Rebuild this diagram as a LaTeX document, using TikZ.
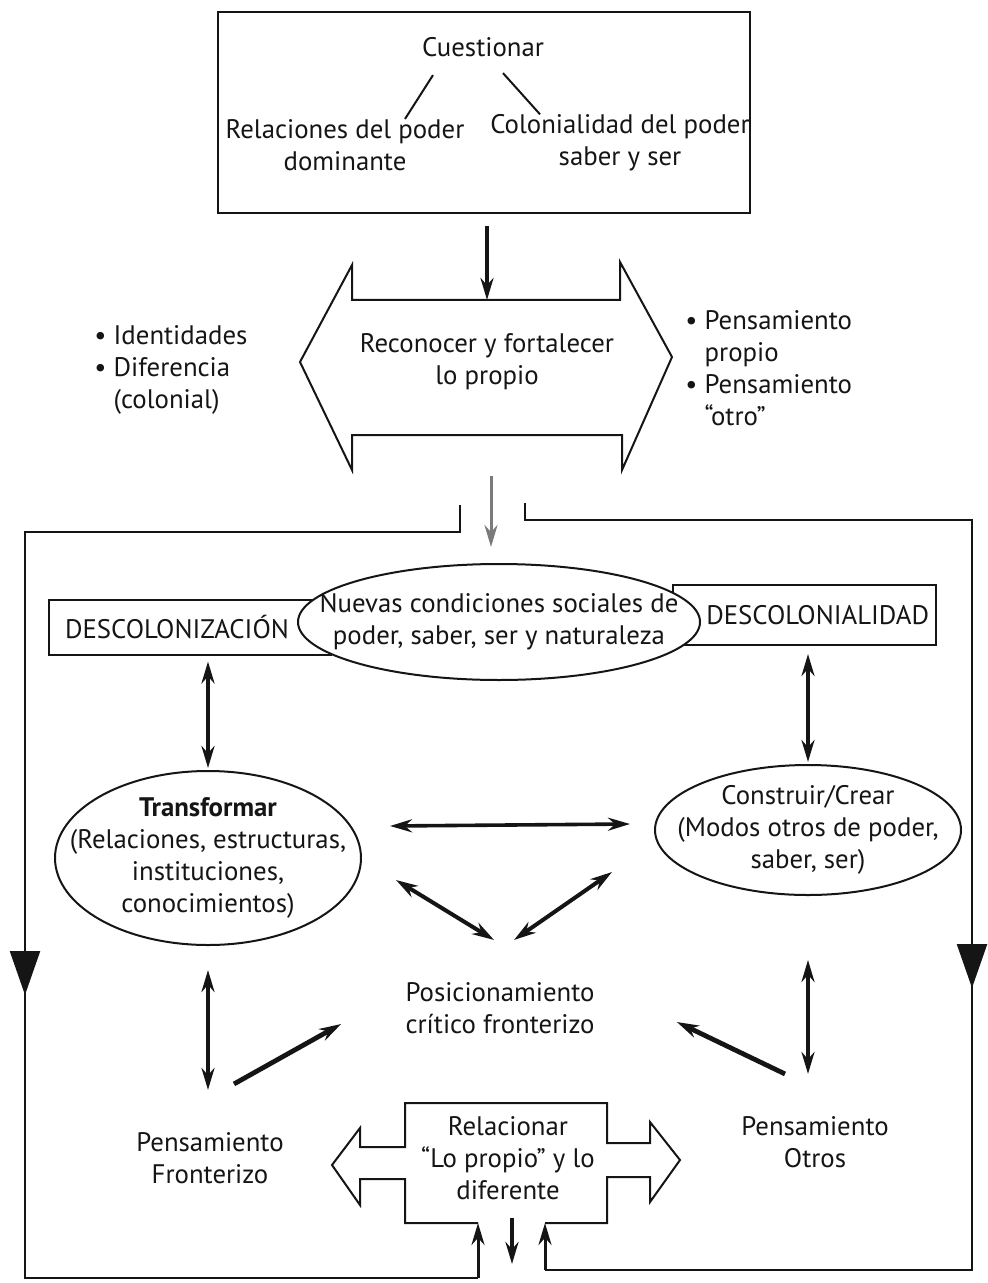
\documentclass[tikz,border=0pt]{standalone}
\usepackage{fontspec}
\setmainfont{PT Sans}
\usetikzlibrary{arrows.meta, positioning, calc, shapes.geometric}
\definecolor{Ink}{HTML}{151515}
\definecolor{MidGray}{HTML}{7A7A7A}
\tikzset{
    lbl/.style={font=\fontsize{13.4}{16}\selectfont, align=center, text=Ink, inner sep=1pt},
    outline/.style={draw=Ink, line width=1pt},
    oval/.style={ellipse, draw=Ink, line width=1pt, fill=white, inner sep=0pt},
    twoway/.style={{Stealth[length=11pt,width=6.5pt]}-{Stealth[length=11pt,width=6.5pt]}, line width=1.8pt, draw=Ink},
    oneway/.style={-{Stealth[length=11pt,width=6.5pt]}, line width=1.8pt, draw=Ink},
}

\begin{document}
\begin{tikzpicture}[x=0.5pt, y=-0.5pt]
    \useasboundingbox (0,0) rectangle (988,1283);

    % Top box
    \node[outline, rectangle, minimum width=266pt, minimum height=100.5pt] (topbox) at (484,112.5) {};
    \node[lbl] (cuest) at (483,47) {Cuestionar};
    \node[lbl] (relpod) at (345,145) {Relaciones del poder\\dominante};
    \node[lbl] (colpod) at (620,143) {Colonialidad del poder\\saber y ser};
    \draw[line width=1pt, Ink] ([shift={(-25pt,-8pt)}]cuest.south) -- ([xshift=30pt,yshift=-1pt]relpod.north);
    \draw[line width=1pt, Ink] ([shift={(10pt,-7pt)}]cuest.south) -- ([xshift=-40pt,yshift=-1pt]colpod.north);

    % Double arrow
    \coordinate (recotop) at (487,300);
    \coordinate (recobot) at (491,476);
    \draw[outline] (352,300) -- (620,300) -- (620,262) -- (672,357) -- (622,470) -- (622,435)
        -- (352,435) -- (352,470) -- (300,362) -- (352,265) -- cycle;
    \node[lbl] (reco) at (487,362) {Reconocer y fortalecer\\lo propio};
    \draw[oneway] (recotop |- topbox.south) ++(0,12) -- (recotop);

    % Side notes
    \node[lbl, align=left, anchor=west] (ident) at (92,370)
        {\textbullet\ Identidades\\\textbullet\ Diferencia\\\phantom{\textbullet\ }(colonial)};
    \node[lbl, align=left, anchor=west] (penso) at (683,368)
        {\textbullet\ Pensamiento\\\phantom{\textbullet\ }propio\\\textbullet\ Pensamiento\\\phantom{\textbullet\ }``otro''};

    % Middle row
    \node[lbl, outline, rectangle, anchor=west, text width=125pt, inner xsep=8pt, minimum height=27.5pt,
          align=left] (descoz) at (48,627) {DESCOLONIZACIÓN};
    \node[lbl, outline, rectangle, anchor=west, text width=124.5pt, inner xsep=3.5pt, minimum height=30pt,
          align=right] (descol) at (672,615) {DESCOLONIALIDAD};
    \node[oval, minimum width=201pt, minimum height=58pt] (nuevas) at (499,622) {};
    \node[lbl] (nuevastxt) at (nuevas.center) {Nuevas condiciones sociales de\\poder, saber, ser y naturaleza};
    \draw[oneway, MidGray, line width=1.5pt] (recobot) -- ++(0,71);

    % Frame round the lower part
    \draw[outline, line width=1.2pt, -{Triangle[length=22pt,width=15pt]}]
        (460,505) -- (460,532) -- (25,532) -- (25,995);
    \draw[outline, line width=1.2pt] (25,990) -- (25,1278) -- (478,1278);
    \draw[outline, line width=1.2pt, -{Triangle[length=22pt,width=15pt]}]
        (525,503) -- (525,520) -- (972,520) -- (972,988);
    \draw[outline, line width=1.2pt] (972,983) -- (972,1270) -- (545,1270);

    % Ovals
    \node[oval, minimum width=153pt, minimum height=87pt] (transf) at (208,858) {};
    \node[lbl] (transftxt) at (transf.center)
        {\textbf{Transformar}\\(Relaciones, estructuras,\\instituciones,\\conocimientos)};
    \node[oval, minimum width=153pt, minimum height=65pt] (constr) at (808,830) {};
    \node[lbl] (constrtxt) at (constr.center)
        {Construir/Crear\\(Modos otros de poder,\\saber, ser)};
    \node[lbl] (posic) at (500,1008) {Posicionamiento\\crítico fronterizo};
    \node[lbl] (pfront) at (210,1158) {Pensamiento\\Fronterizo};
    \node[lbl] (potros) at (815,1142) {Pensamiento\\Otros};

    % Relacionar
    \coordinate (relL) at (478,1223);
    \coordinate (relR) at (545,1223);
    \draw[outline] (relL) -- (405,1223) -- (405,1179) -- (360,1179) -- (360,1205) -- (332,1165)
        -- (360,1128) -- (360,1147) -- (405,1147) -- (405,1103) -- (607,1103) -- (607,1143)
        -- (650,1143) -- (650,1122) -- (680,1160) -- (650,1202) -- (650,1177) -- (607,1177)
        -- (607,1223) -- (relR);
    \node[lbl] (relac) at (508,1158) {Relacionar\\``Lo propio'' y lo\\diferente};

    % Arrows
    \draw[twoway, shorten <=3pt, shorten >=1pt] (transf.north |- descoz.south) -- (transf.north);
    \draw[twoway, shorten <=4pt, shorten >=1pt] (constr.north |- descol.south) -- (constr.north);
    \draw[twoway] ([shift={(14pt,16pt)}]transf.east) -- ([shift={(-12pt,3pt)}]constr.west);
    \draw[twoway, line width=2pt] ([shift={(17pt,-11pt)}]transf.east) -- ([shift={(-3pt,20pt)}]posic.north);
    \draw[twoway, line width=2pt] ([shift={(-21pt,-21pt)}]constr.west) -- ([shift={(7pt,20pt)}]posic.north);
    \draw[twoway, shorten <=12pt, shorten >=20pt] (transf.south) -- (transf.south |- pfront.north);
    \draw[twoway, shorten <=32pt, shorten >=20pt] (constr.south) -- (constr.south |- potros.north);
    \draw[oneway, line width=2.4pt] ([shift={(12pt,23pt)}]pfront.north) -- ([shift={(-31pt,-8pt)}]posic.west);
    \draw[oneway, line width=2.4pt] ([shift={(-15pt,20pt)}]potros.north) -- ([shift={(40pt,-7pt)}]posic.east);
    \draw[oneway] (512,1218) -- ++(0,46);
    \draw[oneway, line width=1.5pt] (478,1278) -- (relL);
    \draw[oneway, line width=1.5pt] (545,1270) -- (relR);
\end{tikzpicture}
\end{document}
